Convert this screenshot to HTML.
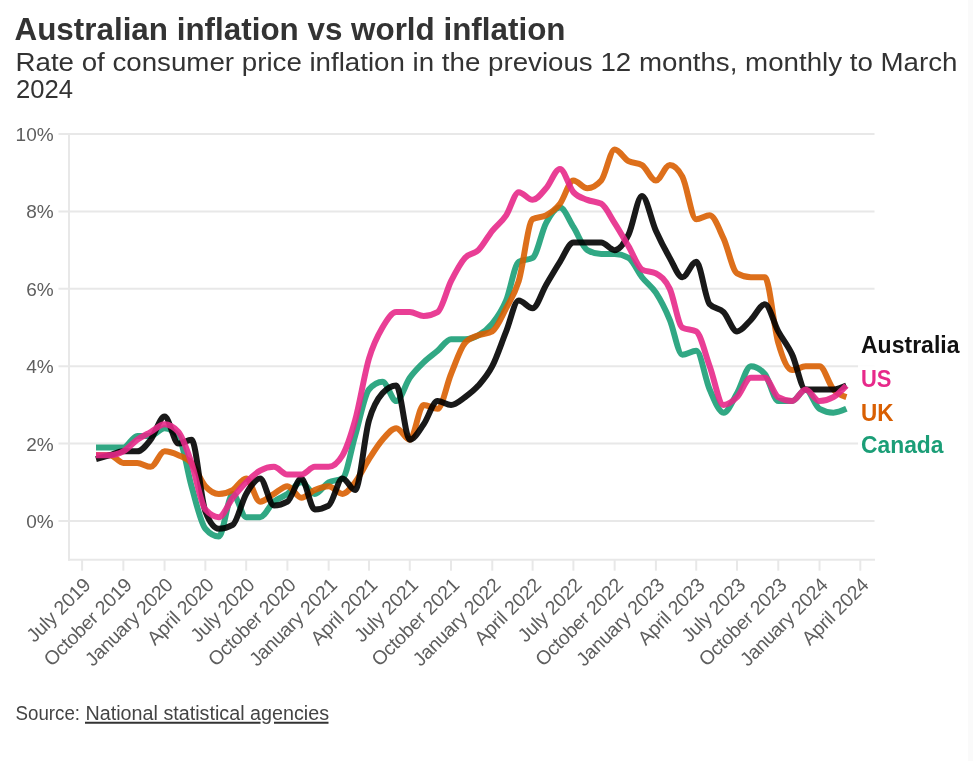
<!DOCTYPE html>
<html><head><meta charset="utf-8"><style>html,body{margin:0;padding:0;background:#fff;width:973px;height:761px;overflow:hidden;position:relative}</style></head><body>
<svg width="973" height="761" viewBox="0 0 973 761" style="position:absolute;left:0;top:0;will-change:transform;font-family:'Liberation Sans',sans-serif">
<rect x="968" y="0" width="5" height="761" fill="#fafafa"/>
<text x="14.5" y="39.8" font-size="32" font-weight="bold" fill="#333" textLength="551" lengthAdjust="spacingAndGlyphs">Australian inflation vs world inflation</text>
<text x="15.5" y="70.7" font-size="26.5" fill="#333" textLength="942" lengthAdjust="spacingAndGlyphs">Rate of consumer price inflation in the previous 12 months, monthly to March</text>
<text x="16" y="97.7" font-size="26.5" fill="#333" textLength="57" lengthAdjust="spacingAndGlyphs">2024</text>
<line x1="58.5" x2="874.5" y1="521.00" y2="521.00" stroke="#e8e8e8" stroke-width="2"/>
<text x="53.6" y="527.90" font-size="19" fill="#5e5e5e" text-anchor="end">0%</text>
<line x1="58.5" x2="874.5" y1="443.62" y2="443.62" stroke="#e8e8e8" stroke-width="2"/>
<text x="53.6" y="450.52" font-size="19" fill="#5e5e5e" text-anchor="end">2%</text>
<line x1="58.5" x2="874.5" y1="366.24" y2="366.24" stroke="#e8e8e8" stroke-width="2"/>
<text x="53.6" y="373.14" font-size="19" fill="#5e5e5e" text-anchor="end">4%</text>
<line x1="58.5" x2="874.5" y1="288.86" y2="288.86" stroke="#e8e8e8" stroke-width="2"/>
<text x="53.6" y="295.76" font-size="19" fill="#5e5e5e" text-anchor="end">6%</text>
<line x1="58.5" x2="874.5" y1="211.48" y2="211.48" stroke="#e8e8e8" stroke-width="2"/>
<text x="53.6" y="218.38" font-size="19" fill="#5e5e5e" text-anchor="end">8%</text>
<line x1="58.5" x2="874.5" y1="134.10" y2="134.10" stroke="#e8e8e8" stroke-width="2"/>
<text x="53.6" y="141.00" font-size="19" fill="#5e5e5e" text-anchor="end">10%</text>
<line x1="69" x2="69" y1="133.10" y2="560.69" stroke="#e8e8e8" stroke-width="2"/>
<line x1="68" x2="875" y1="559.69" y2="559.69" stroke="#e8e8e8" stroke-width="2"/>
<line x1="82.10" x2="82.10" y1="559.69" y2="570.69" stroke="#e8e8e8" stroke-width="2"/>
<text transform="translate(91.60,586.19) rotate(-45)" font-size="19.5" letter-spacing="-0.3" fill="#5e5e5e" text-anchor="end">July 2019</text>
<line x1="123.34" x2="123.34" y1="559.69" y2="570.69" stroke="#e8e8e8" stroke-width="2"/>
<text transform="translate(132.84,586.19) rotate(-45)" font-size="19.5" letter-spacing="-0.3" fill="#5e5e5e" text-anchor="end">October 2019</text>
<line x1="164.58" x2="164.58" y1="559.69" y2="570.69" stroke="#e8e8e8" stroke-width="2"/>
<text transform="translate(174.08,586.19) rotate(-45)" font-size="19.5" letter-spacing="-0.3" fill="#5e5e5e" text-anchor="end">January 2020</text>
<line x1="205.37" x2="205.37" y1="559.69" y2="570.69" stroke="#e8e8e8" stroke-width="2"/>
<text transform="translate(214.87,586.19) rotate(-45)" font-size="19.5" letter-spacing="-0.3" fill="#5e5e5e" text-anchor="end">April 2020</text>
<line x1="246.17" x2="246.17" y1="559.69" y2="570.69" stroke="#e8e8e8" stroke-width="2"/>
<text transform="translate(255.67,586.19) rotate(-45)" font-size="19.5" letter-spacing="-0.3" fill="#5e5e5e" text-anchor="end">July 2020</text>
<line x1="287.41" x2="287.41" y1="559.69" y2="570.69" stroke="#e8e8e8" stroke-width="2"/>
<text transform="translate(296.91,586.19) rotate(-45)" font-size="19.5" letter-spacing="-0.3" fill="#5e5e5e" text-anchor="end">October 2020</text>
<line x1="328.65" x2="328.65" y1="559.69" y2="570.69" stroke="#e8e8e8" stroke-width="2"/>
<text transform="translate(338.15,586.19) rotate(-45)" font-size="19.5" letter-spacing="-0.3" fill="#5e5e5e" text-anchor="end">January 2021</text>
<line x1="368.99" x2="368.99" y1="559.69" y2="570.69" stroke="#e8e8e8" stroke-width="2"/>
<text transform="translate(378.49,586.19) rotate(-45)" font-size="19.5" letter-spacing="-0.3" fill="#5e5e5e" text-anchor="end">April 2021</text>
<line x1="409.79" x2="409.79" y1="559.69" y2="570.69" stroke="#e8e8e8" stroke-width="2"/>
<text transform="translate(419.29,586.19) rotate(-45)" font-size="19.5" letter-spacing="-0.3" fill="#5e5e5e" text-anchor="end">July 2021</text>
<line x1="451.03" x2="451.03" y1="559.69" y2="570.69" stroke="#e8e8e8" stroke-width="2"/>
<text transform="translate(460.53,586.19) rotate(-45)" font-size="19.5" letter-spacing="-0.3" fill="#5e5e5e" text-anchor="end">October 2021</text>
<line x1="492.27" x2="492.27" y1="559.69" y2="570.69" stroke="#e8e8e8" stroke-width="2"/>
<text transform="translate(501.77,586.19) rotate(-45)" font-size="19.5" letter-spacing="-0.3" fill="#5e5e5e" text-anchor="end">January 2022</text>
<line x1="532.61" x2="532.61" y1="559.69" y2="570.69" stroke="#e8e8e8" stroke-width="2"/>
<text transform="translate(542.11,586.19) rotate(-45)" font-size="19.5" letter-spacing="-0.3" fill="#5e5e5e" text-anchor="end">April 2022</text>
<line x1="573.41" x2="573.41" y1="559.69" y2="570.69" stroke="#e8e8e8" stroke-width="2"/>
<text transform="translate(582.91,586.19) rotate(-45)" font-size="19.5" letter-spacing="-0.3" fill="#5e5e5e" text-anchor="end">July 2022</text>
<line x1="614.65" x2="614.65" y1="559.69" y2="570.69" stroke="#e8e8e8" stroke-width="2"/>
<text transform="translate(624.15,586.19) rotate(-45)" font-size="19.5" letter-spacing="-0.3" fill="#5e5e5e" text-anchor="end">October 2022</text>
<line x1="655.89" x2="655.89" y1="559.69" y2="570.69" stroke="#e8e8e8" stroke-width="2"/>
<text transform="translate(665.39,586.19) rotate(-45)" font-size="19.5" letter-spacing="-0.3" fill="#5e5e5e" text-anchor="end">January 2023</text>
<line x1="696.23" x2="696.23" y1="559.69" y2="570.69" stroke="#e8e8e8" stroke-width="2"/>
<text transform="translate(705.73,586.19) rotate(-45)" font-size="19.5" letter-spacing="-0.3" fill="#5e5e5e" text-anchor="end">April 2023</text>
<line x1="737.03" x2="737.03" y1="559.69" y2="570.69" stroke="#e8e8e8" stroke-width="2"/>
<text transform="translate(746.53,586.19) rotate(-45)" font-size="19.5" letter-spacing="-0.3" fill="#5e5e5e" text-anchor="end">July 2023</text>
<line x1="778.27" x2="778.27" y1="559.69" y2="570.69" stroke="#e8e8e8" stroke-width="2"/>
<text transform="translate(787.77,586.19) rotate(-45)" font-size="19.5" letter-spacing="-0.3" fill="#5e5e5e" text-anchor="end">October 2023</text>
<line x1="819.51" x2="819.51" y1="559.69" y2="570.69" stroke="#e8e8e8" stroke-width="2"/>
<text transform="translate(829.01,586.19) rotate(-45)" font-size="19.5" letter-spacing="-0.3" fill="#5e5e5e" text-anchor="end">January 2024</text>
<line x1="860.30" x2="860.30" y1="559.69" y2="570.69" stroke="#e8e8e8" stroke-width="2"/>
<text transform="translate(869.80,586.19) rotate(-45)" font-size="19.5" letter-spacing="-0.3" fill="#5e5e5e" text-anchor="end">April 2024</text>
<path d="M96.00,447.49C100.63,447.49,105.26,447.49,109.89,447.49C114.38,447.49,118.86,447.49,123.34,447.49C127.97,447.49,132.61,435.88,137.24,435.88C141.72,435.88,146.20,435.88,150.69,435.88C155.32,435.88,159.95,428.14,164.58,428.14C169.21,428.14,173.85,430.72,178.48,435.88C182.81,440.71,187.15,471.10,191.48,486.18C196.11,502.30,200.74,523.41,205.37,528.74C209.86,533.90,214.34,536.48,218.82,536.48C223.46,536.48,228.09,493.92,232.72,493.92C237.20,493.92,241.68,517.13,246.17,517.13C250.80,517.13,255.43,517.13,260.06,517.13C264.70,517.13,269.33,505.55,273.96,501.65C278.44,497.89,282.93,497.07,287.41,493.92C292.04,490.66,296.67,482.31,301.30,482.31C305.79,482.31,310.27,493.92,314.75,493.92C319.39,493.92,324.02,484.89,328.65,482.31C333.28,479.73,337.91,481.02,342.55,478.44C346.73,476.11,350.91,449.97,355.10,435.88C359.73,420.28,364.36,394.78,368.99,389.45C373.48,384.30,377.96,381.72,382.44,381.72C387.07,381.72,391.71,401.06,396.34,401.06C400.82,401.06,405.30,384.23,409.79,377.85C414.42,371.25,419.05,366.88,423.68,362.37C428.32,357.86,432.95,354.70,437.58,350.76C442.06,346.96,446.55,339.16,451.03,339.16C455.66,339.16,460.29,339.16,464.92,339.16C469.41,339.16,473.89,337.78,478.37,335.29C483.00,332.71,487.64,329.48,492.27,323.68C496.90,317.88,501.53,311.64,506.17,300.47C510.35,290.37,514.53,264.11,518.72,261.78C523.35,259.20,527.98,260.49,532.61,257.91C537.10,255.41,541.58,231.44,546.06,223.09C550.69,214.45,555.33,207.61,559.96,207.61C564.44,207.61,568.92,220.00,573.41,226.96C578.04,234.15,582.67,247.59,587.30,250.17C591.93,252.75,596.57,254.04,601.20,254.04C605.68,254.04,610.16,254.04,614.65,254.04C619.28,254.04,623.91,255.33,628.54,257.91C633.03,260.40,637.51,271.52,641.99,277.25C646.62,283.18,651.26,285.64,655.89,292.73C660.52,299.82,665.15,308.78,669.78,319.81C673.97,329.78,678.15,354.63,682.34,354.63C686.97,354.63,691.60,350.76,696.23,350.76C700.72,350.76,705.20,379.22,709.68,389.45C714.31,400.03,718.94,412.67,723.58,412.67C728.06,412.67,732.54,400.90,737.03,393.32C741.66,385.50,746.29,366.24,750.92,366.24C755.55,366.24,760.19,368.82,764.82,373.98C769.30,378.97,773.78,401.06,778.27,401.06C782.90,401.06,787.53,401.06,792.16,401.06C796.65,401.06,801.13,389.45,805.61,389.45C810.24,389.45,814.88,406.22,819.51,408.80C824.14,411.38,828.77,412.67,833.40,412.67C837.74,412.67,842.07,410.73,846.40,408.80" fill="none" stroke="#1b9e77" stroke-width="6" stroke-opacity="0.9" stroke-linejoin="round"/>
<path d="M96.00,455.23C100.63,455.23,105.26,455.23,109.89,455.23C114.38,455.23,118.86,462.97,123.34,462.97C127.97,462.97,132.61,462.97,137.24,462.97C141.72,462.97,146.20,466.83,150.69,466.83C155.32,466.83,159.95,451.36,164.58,451.36C169.21,451.36,173.85,453.18,178.48,455.23C182.81,457.14,187.15,458.13,191.48,462.97C196.11,468.13,200.74,481.02,205.37,486.18C209.86,491.17,214.34,493.92,218.82,493.92C223.46,493.92,228.09,492.63,232.72,490.05C237.20,487.55,241.68,478.44,246.17,478.44C250.80,478.44,255.43,501.65,260.06,501.65C264.70,501.65,269.33,496.54,273.96,493.92C278.44,491.38,282.93,486.18,287.41,486.18C292.04,486.18,296.67,497.79,301.30,497.79C305.79,497.79,310.27,491.97,314.75,490.05C319.39,488.06,324.02,486.18,328.65,486.18C333.28,486.18,337.91,493.92,342.55,493.92C346.73,493.92,350.91,487.66,355.10,482.31C359.73,476.39,364.36,466.29,368.99,459.10C373.48,452.14,377.96,444.87,382.44,439.75C387.07,434.46,391.71,428.14,396.34,428.14C400.82,428.14,405.30,439.75,409.79,439.75C414.42,439.75,419.05,404.93,423.68,404.93C428.32,404.93,432.95,408.80,437.58,408.80C442.06,408.80,446.55,384.79,451.03,373.98C455.66,362.81,460.29,348.36,464.92,343.03C469.41,337.87,473.89,337.21,478.37,335.29C483.00,333.30,487.64,334.00,492.27,331.42C496.90,328.84,501.53,317.13,506.17,308.21C510.35,300.14,514.53,294.71,518.72,281.12C523.35,266.08,527.98,221.88,532.61,219.22C537.10,216.64,541.58,217.85,546.06,215.35C550.69,212.77,555.33,209.71,559.96,203.74C564.44,197.97,568.92,180.53,573.41,180.53C578.04,180.53,582.67,188.27,587.30,188.27C591.93,188.27,596.57,185.69,601.20,180.53C605.68,175.54,610.16,149.58,614.65,149.58C619.28,149.58,623.91,158.60,628.54,161.18C633.03,163.68,637.51,162.47,641.99,165.05C646.62,167.72,651.26,180.53,655.89,180.53C660.52,180.53,665.15,165.05,669.78,165.05C673.97,165.05,678.15,168.92,682.34,176.66C686.97,185.23,691.60,219.22,696.23,219.22C700.72,219.22,705.20,215.35,709.68,215.35C714.31,215.35,718.94,228.66,723.58,238.56C728.06,248.14,732.54,270.89,737.03,273.38C741.66,275.96,746.29,277.25,750.92,277.25C755.55,277.25,760.19,277.25,764.82,277.25C769.30,277.25,773.78,327.59,778.27,343.03C782.90,358.98,787.53,370.11,792.16,370.11C796.65,370.11,801.13,366.24,805.61,366.24C810.24,366.24,814.88,366.24,819.51,366.24C824.14,366.24,828.77,384.29,833.40,389.45C837.74,394.29,842.07,395.74,846.40,397.19" fill="none" stroke="#d95f02" stroke-width="6" stroke-opacity="0.9" stroke-linejoin="round"/>
<path d="M96.00,459.10C100.63,457.82,105.26,456.54,109.89,455.23C114.38,453.96,118.86,451.36,123.34,451.36C127.97,451.36,132.61,451.36,137.24,451.36C141.72,451.36,146.20,445.40,150.69,439.75C155.32,433.91,159.95,416.54,164.58,416.54C169.21,416.54,173.85,443.62,178.48,443.62C182.81,443.62,187.15,439.75,191.48,439.75C196.11,439.75,200.74,499.33,205.37,511.33C209.86,522.93,214.34,528.74,218.82,528.74C223.46,528.74,228.09,527.45,232.72,524.87C237.20,522.37,241.68,501.62,246.17,493.92C250.80,485.96,255.43,478.44,260.06,478.44C264.70,478.44,269.33,505.52,273.96,505.52C278.44,505.52,282.93,504.23,287.41,501.65C292.04,498.99,296.67,478.44,301.30,478.44C305.79,478.44,310.27,509.39,314.75,509.39C319.39,509.39,324.02,508.10,328.65,505.52C333.28,502.94,337.91,478.44,342.55,478.44C346.73,478.44,350.91,490.05,355.10,490.05C359.73,490.05,364.36,436.56,368.99,420.41C373.48,404.77,377.96,398.32,382.44,393.32C387.07,388.16,391.71,385.59,396.34,385.59C400.82,385.59,405.30,439.75,409.79,439.75C414.42,439.75,419.05,430.72,423.68,424.27C428.32,417.83,432.95,401.06,437.58,401.06C442.06,401.06,446.55,404.93,451.03,404.93C455.66,404.93,460.29,400.49,464.92,397.19C469.41,394.00,473.89,390.62,478.37,385.59C483.00,380.38,487.64,375.27,492.27,366.24C496.90,357.21,501.53,342.93,506.17,331.42C510.35,321.02,514.53,300.47,518.72,300.47C523.35,300.47,527.98,308.21,532.61,308.21C537.10,308.21,541.58,292.61,546.06,284.99C550.69,277.12,555.33,268.97,559.96,261.78C564.44,254.82,568.92,242.43,573.41,242.43C578.04,242.43,582.67,242.43,587.30,242.43C591.93,242.43,596.57,242.43,601.20,242.43C605.68,242.43,610.16,250.17,614.65,250.17C619.28,250.17,623.91,244.00,628.54,234.69C633.03,225.68,637.51,196.00,641.99,196.00C646.62,196.00,651.26,220.51,655.89,230.83C660.52,241.14,665.15,249.87,669.78,257.91C673.97,265.17,678.15,277.25,682.34,277.25C686.97,277.25,691.60,261.78,696.23,261.78C700.72,261.78,705.20,299.34,709.68,304.34C714.31,309.49,718.94,307.42,723.58,312.07C728.06,316.58,732.54,331.42,737.03,331.42C741.66,331.42,746.29,324.33,750.92,319.81C755.55,315.30,760.19,304.34,764.82,304.34C769.30,304.34,773.78,323.15,778.27,331.42C782.90,339.97,787.53,344.73,792.16,354.63C796.65,364.21,801.13,389.45,805.61,389.45C810.24,389.45,814.88,389.45,819.51,389.45C824.14,389.45,828.77,389.45,833.40,389.45C837.74,389.45,842.07,387.52,846.40,385.59" fill="none" stroke="#000000" stroke-width="6" stroke-opacity="0.9" stroke-linejoin="round"/>
<path d="M96.00,455.23C100.63,455.23,105.26,455.23,109.89,455.23C114.38,455.23,118.86,453.85,123.34,451.36C127.97,448.78,132.61,443.01,137.24,439.75C141.72,436.60,146.20,434.55,150.69,432.01C155.32,429.39,159.95,424.27,164.58,424.27C169.21,424.27,173.85,426.85,178.48,432.01C182.81,436.84,187.15,450.64,191.48,462.97C196.11,476.14,200.74,504.06,205.37,509.39C209.86,514.55,214.34,517.13,218.82,517.13C223.46,517.13,228.09,503.67,232.72,497.79C237.20,492.10,241.68,486.77,246.17,482.31C250.80,477.70,255.43,473.28,260.06,470.70C264.70,468.12,269.33,466.83,273.96,466.83C278.44,466.83,282.93,474.57,287.41,474.57C292.04,474.57,296.67,474.57,301.30,474.57C305.79,474.57,310.27,466.83,314.75,466.83C319.39,466.83,324.02,466.83,328.65,466.83C333.28,466.83,337.91,462.96,342.55,455.23C346.73,448.24,350.91,435.35,355.10,420.41C359.73,403.86,364.36,374.07,368.99,358.50C373.48,343.44,377.96,335.25,382.44,327.55C387.07,319.59,391.71,312.07,396.34,312.07C400.82,312.07,405.30,312.07,409.79,312.07C414.42,312.07,419.05,315.94,423.68,315.94C428.32,315.94,432.95,314.65,437.58,312.07C442.06,309.58,446.55,290.05,451.03,281.12C455.66,271.90,460.29,263.07,464.92,257.91C469.41,252.91,473.89,254.55,478.37,250.17C483.00,245.64,487.64,236.63,492.27,230.83C496.90,225.02,501.53,222.30,506.17,215.35C510.35,209.07,514.53,192.13,518.72,192.13C523.35,192.13,527.98,199.87,532.61,199.87C537.10,199.87,541.58,193.30,546.06,188.27C550.69,183.06,555.33,168.92,559.96,168.92C564.44,168.92,568.92,187.14,573.41,192.13C578.04,197.29,582.67,197.94,587.30,199.87C591.93,201.81,596.57,201.16,601.20,203.74C605.68,206.24,610.16,216.13,614.65,223.09C619.28,230.28,623.91,238.43,628.54,246.30C633.03,253.92,637.51,267.02,641.99,269.51C646.62,272.09,651.26,270.80,655.89,273.38C660.52,275.96,665.15,278.91,669.78,288.86C673.97,297.85,678.15,325.22,682.34,327.55C686.97,330.13,691.60,328.84,696.23,331.42C700.72,333.92,705.20,354.20,709.68,366.24C714.31,378.68,718.94,404.93,723.58,404.93C728.06,404.93,732.54,401.57,737.03,397.19C741.66,392.67,746.29,377.85,750.92,377.85C755.55,377.85,760.19,377.85,764.82,377.85C769.30,377.85,773.78,394.70,778.27,397.19C782.90,399.77,787.53,401.06,792.16,401.06C796.65,401.06,801.13,389.45,805.61,389.45C810.24,389.45,814.88,401.06,819.51,401.06C824.14,401.06,828.77,399.77,833.40,397.19C837.74,394.78,842.07,390.18,846.40,385.59" fill="none" stroke="#e7298a" stroke-width="6" stroke-opacity="0.9" stroke-linejoin="round"/>
<rect x="858" y="363.24" width="18" height="6" fill="#fff" fill-opacity="0.93"/>
<rect x="858" y="440.62" width="18" height="6" fill="#fff" fill-opacity="0.93"/>
<text x="861" y="352.8" font-size="23" font-weight="bold" fill="#111" textLength="98.5" lengthAdjust="spacingAndGlyphs">Australia</text>
<text x="861" y="386.6" font-size="23" font-weight="bold" fill="#e7298a" textLength="30.5" lengthAdjust="spacingAndGlyphs">US</text>
<text x="861" y="420.5" font-size="23" font-weight="bold" fill="#d95f02" textLength="32.5" lengthAdjust="spacingAndGlyphs">UK</text>
<text x="861" y="453.0" font-size="23" font-weight="bold" fill="#1b9e77" textLength="82.5" lengthAdjust="spacingAndGlyphs">Canada</text>
<text x="15.5" y="720.2" font-size="20" fill="#444" textLength="64.5" lengthAdjust="spacingAndGlyphs">Source:</text>
<text x="85.5" y="720.2" font-size="20" fill="#444" textLength="243.5" lengthAdjust="spacingAndGlyphs">National statistical agencies</text>
<path d="M85,722.8H260.5M274,722.8H328.5" stroke="#333" stroke-width="2"/>
</svg>
</body></html>
